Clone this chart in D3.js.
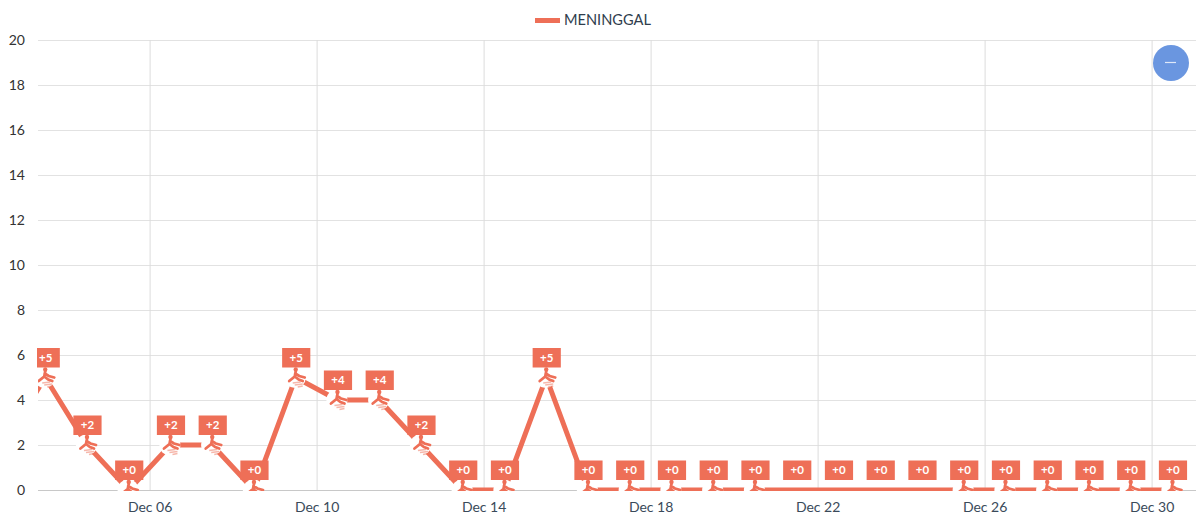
<!DOCTYPE html>
<html><head><meta charset="utf-8">
<script src="https://cdn.jsdelivr.net/npm/d3@7"></script>
<style>html,body{margin:0;padding:0;background:#fff}svg{display:block}text{font-family:Lato,sans-serif}</style>
</head><body><svg id="c" width="1196" height="516"></svg>
<script>
const seriesName = "MENINGGAL";
const values = [2,5,2,0,2,2,0,5,4,4,2,0,0,5,0,0,0,0,0,0,0,0,0,0,0,0,0,0,0];
const labelled = [false,true,true,true,true,true,true,true,true,true,true,true,true,true,true,true,true,true,true,true,true,true,true,true,true,true,true,true,true];
const iconShown = [false,true,true,true,true,true,true,true,true,true,true,true,true,true,true,true,true,true,true,false,false,false,false,true,true,true,true,true,true];
const yTicks = [0,2,4,6,8,10,12,14,16,18,20];
const xTickDates = ["2019-12-06","2019-12-10","2019-12-14","2019-12-18","2019-12-22","2019-12-26","2019-12-30"];
const color = "#ee6f57";

const svg = d3.select("#c");
const t0 = new Date("2019-12-06T00:00:00Z"), t1 = new Date("2019-12-30T00:00:00Z");
const x = d3.scaleUtc().domain([t0, t1]).range([149.6, 1151.6]);
const y = d3.scaleLinear().domain([0,20]).range([490,40]);
const L = 38, R = 1196;
const pts = values.map((v,i)=>({v,i,label:labelled[i],icon:iconShown[i],
  t:new Date(new Date("2019-12-02T12:00:00Z").getTime()+ (i)*864e5 )}));

svg.append("defs").append("clipPath").attr("id","plot").append("rect")
  .attr("x",L).attr("y",40).attr("width",R-L).attr("height",451);
svg.append("defs").append("clipPath").attr("id","lab").append("rect")
  .attr("x",L-1).attr("y",0).attr("width",R-L+1).attr("height",516);

// grid
const gy = svg.append("g").attr("transform",`translate(${L},0)`)
  .call(d3.axisLeft(y).tickValues(yTicks).tickSize(-(R-L)).tickPadding(13).tickFormat(d3.format("d")));
gy.select(".domain").remove();
gy.selectAll(".tick line").attr("stroke","#e2e2e2").attr("stroke-width",1);
gy.selectAll(".tick text").attr("fill","#333").style("font-size","14px").style("font-family","Lato,sans-serif");

const gx = svg.append("g").attr("transform","translate(0,490)")
  .call(d3.axisBottom(x).tickValues(xTickDates.map(d=>new Date(d+"T00:00:00Z"))).tickSize(-450).tickPadding(12)
    .tickFormat(d3.utcFormat("%b %d")));
gx.select(".domain").remove();
gx.selectAll(".tick line").attr("stroke","#dcdcdc").attr("stroke-width",1);
gx.selectAll(".tick text").attr("fill","#3a4a5a").style("font-size","14px").style("font-family","Lato,sans-serif");

svg.append("line").attr("x1",L).attr("x2",R).attr("y1",y(0)+.5).attr("y2",y(0)+.5).attr("stroke","#c8c8c8");

// line
const plot = svg.append("g").attr("clip-path","url(#plot)");
plot.append("path").datum(pts)
  .attr("fill","none").attr("stroke",color).attr("stroke-width",5)
  .attr("d",d3.line().x(d=>x(d.t)).y(d=>y(d.v)));

// markers
const mk = plot.selectAll("g.m").data(pts.filter(d=>d.icon)).join("g").attr("class","m")
  .attr("transform",d=>`translate(${x(d.t)},${y(d.v)})`);
mk.append("circle").attr("cx",-.5).attr("r",10.6).attr("fill","#fff");
mk.append("circle").attr("cx",0).attr("cy",-8).attr("r",2.2).attr("fill",color);
mk.append("path").attr("fill","none").attr("stroke",color).attr("stroke-width",2.8).attr("stroke-linecap","round")
  .attr("d","M0,-6 L-1,-1 L-6.5,3.5 M-.5,-4 L3.5,-1.5 L9,0 M-1,-1 L3,2 L7,3.5");
mk.append("path").attr("fill","none").attr("stroke",color).attr("stroke-width",1.6).attr("opacity",.5)
  .attr("d","M-3,5.5 L5,4.5 M-1,7.5 L7,6.5 M2,9.5 L7,8.5");

// labels
const lb = svg.append("g").attr("clip-path","url(#lab)").selectAll("g.l").data(pts.filter(d=>d.label)).join("g").attr("class","l")
  .attr("transform",d=>`translate(${x(d.t)},${y(d.v)})`);
lb.append("rect").attr("x",-13.6).attr("y",-29.5).attr("width",28.2).attr("height",19.5).attr("fill",color);
lb.append("text").attr("x",.5).attr("y",-16).attr("text-anchor","middle").attr("fill","#fff")
  .style("font-size","11.5px").style("font-weight","700").text(d=>"+"+d.v);

// legend
svg.append("rect").attr("x",535).attr("y",18).attr("width",25).attr("height",5).attr("fill",color);
svg.append("text").attr("x",564).attr("y",25).attr("fill","#2f3d4d").style("font-size","14.6px").text(seriesName);

// button
svg.append("circle").attr("cx",1171).attr("cy",63).attr("r",18).attr("fill","#6a96e0");
svg.append("line").attr("x1",1165).attr("x2",1176).attr("y1",62.5).attr("y2",62.5).attr("stroke","#dfe8f8").attr("stroke-width",1.2);
</script></body></html>
